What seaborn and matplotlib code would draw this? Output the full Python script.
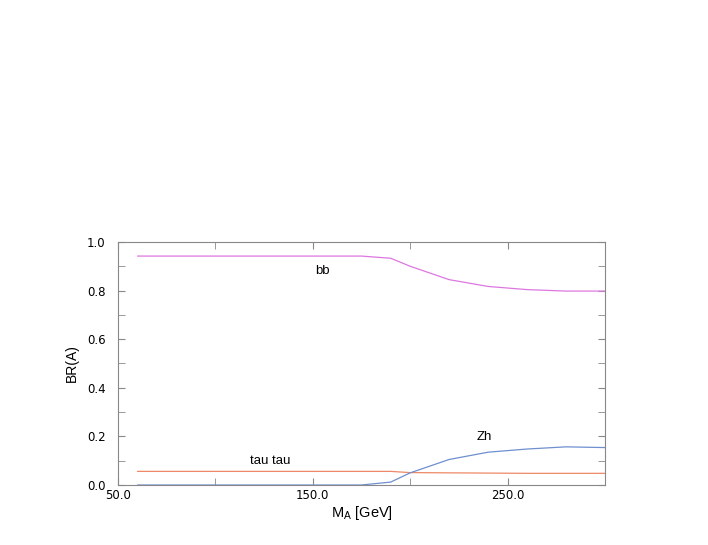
import pandas as pd
import seaborn as sns
import matplotlib.pyplot as plt
from matplotlib.ticker import MultipleLocator, FixedLocator

# masses (GeV) and branching ratios
m_a = [60, 80, 100, 120, 140, 160, 175, 190, 200, 220, 240, 260, 280, 300]
br_bb = [0.942, 0.942, 0.942, 0.942, 0.942, 0.942, 0.942, 0.933, 0.900, 0.845, 0.817, 0.804, 0.798, 0.798]
br_tautau = [0.056, 0.056, 0.056, 0.056, 0.056, 0.056, 0.056, 0.056, 0.051, 0.050, 0.049, 0.048, 0.048, 0.048]
br_zh = [0.0, 0.0, 0.0, 0.0, 0.0, 0.0, 0.0, 0.012, 0.050, 0.105, 0.135, 0.148, 0.157, 0.154]

channels = ["bb", "tau tau", "Zh"]
colors = {"bb": "#dd77e0", "tau tau": "#ee8866", "Zh": "#6f8fd0"}

df = pd.DataFrame({
    "M_A": m_a * 3,
    "BR": br_bb + br_tautau + br_zh,
    "channel": ["bb"] * len(m_a) + ["tau tau"] * len(m_a) + ["Zh"] * len(m_a),
})

sns.set_style("white", {"text.color": "black", "axes.labelcolor": "black",
                        "xtick.color": "black", "ytick.color": "black"})
plt.rcParams["font.family"] = ["Liberation Sans", "DejaVu Sans"]

fig = plt.figure(figsize=(7.08, 5.45), dpi=100)
ax = fig.add_axes([0.1667, 0.1101, 0.6878, 0.4459])

sns.lineplot(data=df, x="M_A", y="BR", hue="channel", hue_order=channels,
             palette=colors, linewidth=0.9, legend=False, ax=ax)

ax.set_xlim(50, 300)
ax.set_ylim(0, 1.0)
ax.xaxis.set_major_locator(FixedLocator([50, 150, 250]))
ax.xaxis.set_minor_locator(FixedLocator([100, 200, 300]))
ax.yaxis.set_major_locator(MultipleLocator(0.2))
ax.yaxis.set_minor_locator(MultipleLocator(0.1))
ax.xaxis.set_major_formatter(lambda v, p: f"{v:.1f}")
ax.yaxis.set_major_formatter(lambda v, p: f"{v:.1f}")
ax.tick_params(which="both", direction="in", top=True, right=True,
               bottom=True, left=True, color="#888888", length=5,
               labelcolor="black")
ax.tick_params(axis="y", labelsize=8.5, pad=9)
ax.tick_params(axis="x", labelsize=8.5, pad=3)
for lab in ax.get_xticklabels() + ax.get_yticklabels():
    lab.set_family("DejaVu Sans")
for s in ax.spines.values():
    s.set_color("#888888")
    s.set_linewidth(0.8)

ax.set_xlabel(r"$\mathregular{M_A}$ [GeV]", fontsize=10.5, labelpad=1, color="black")
ax.set_ylabel("BR(A)", fontsize=10, labelpad=6, color="black")

ax.text(155, 0.88, "bb", fontsize=9.5, ha="center", va="center", color="black")
ax.text(128, 0.099, "tau tau", fontsize=9.5, ha="center", va="center", color="black")
ax.text(238, 0.198, "Zh", fontsize=9.5, ha="center", va="center", color="black")

fig.savefig("out.png", dpi=100)
